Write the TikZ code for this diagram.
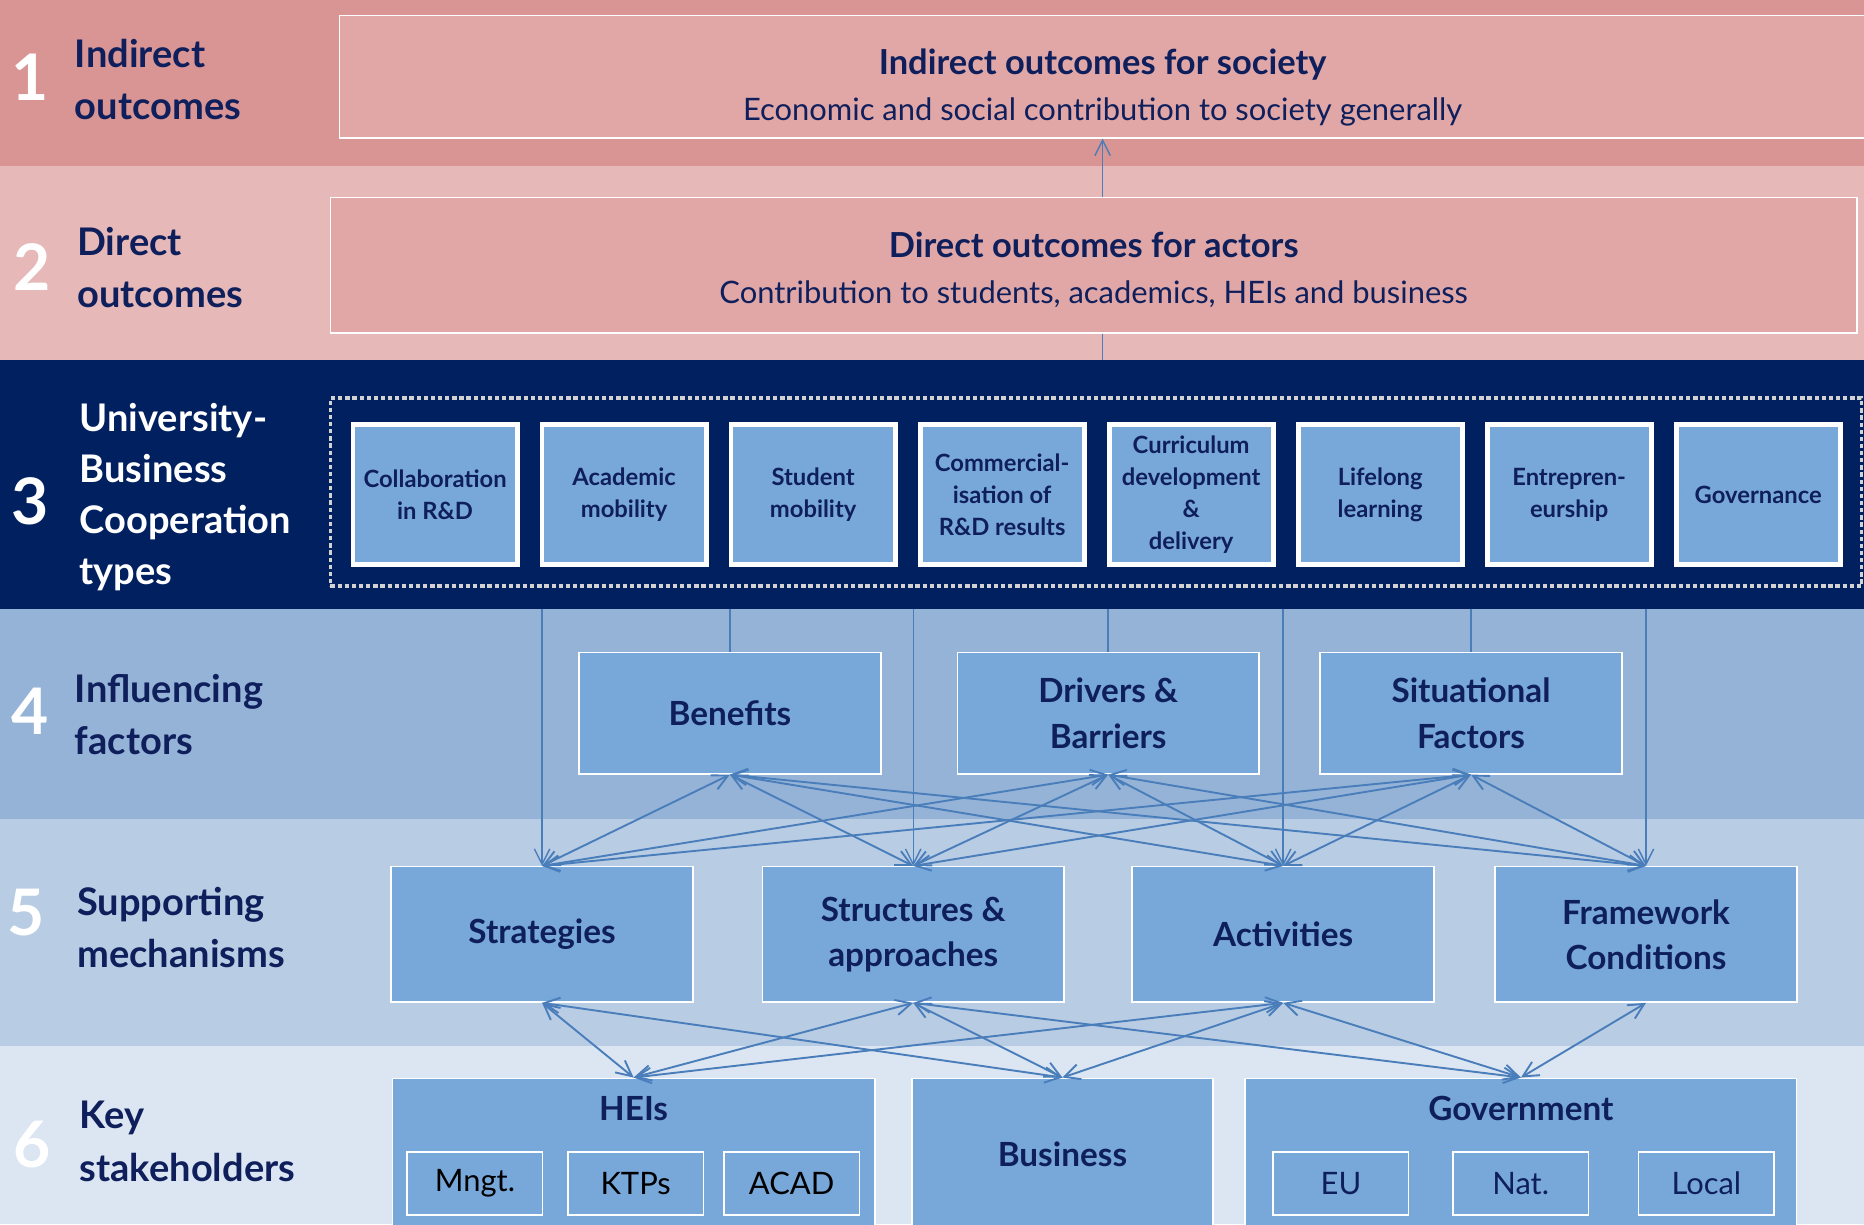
\documentclass[tikz,border=0pt]{standalone}
\usepackage{fontspec}
\setmainfont{Lato}
\usetikzlibrary{positioning,arrows.meta}

\definecolor{bandone}{HTML}{D99594}
\definecolor{bandtwo}{HTML}{E6B8B7}
\definecolor{bandthree}{HTML}{002060}
\definecolor{bandfour}{HTML}{95B3D7}
\definecolor{bandfive}{HTML}{B8CCE4}
\definecolor{bandsix}{HTML}{DCE6F2}
\definecolor{outfill}{HTML}{E0A7A6}
\definecolor{boxblue}{HTML}{78A8DA}
\definecolor{linkblue}{HTML}{4A7EBB}
\definecolor{navy}{HTML}{0F1F5C}

\begin{document}
\begin{tikzpicture}[x=0.5pt, y=-0.5pt, >={Straight Barb[length=6.5pt,width=6.5pt]},
  tiernum/.style={text=white, font=\fontsize{27}{27}\selectfont\bfseries},
  tier/.style={anchor=west, align=left, text=navy, font=\fontsize{16}{22}\selectfont\bfseries},
  outbox/.style={draw=white, line width=0.6pt, fill=outfill, minimum width=642pt},
  outtext/.style={align=center, text=navy, font=\fontsize{13}{19.5}\selectfont},
  typebox/.style={draw=white, line width=2pt, fill=boxblue, text=navy, align=center, minimum width=69pt, minimum height=59pt, inner sep=1pt, font=\fontsize{10}{13.5}\selectfont\bfseries},
  factorbox/.style={draw=white, line width=0.6pt, fill=boxblue, text=navy, align=center, minimum width=127pt, font=\fontsize{14}{19}\selectfont\bfseries},
  holderbox/.style={draw=white, line width=0.6pt, fill=boxblue, text=navy, minimum height=64pt, font=\fontsize{14}{19}\selectfont\bfseries},
  holdertitle/.style={text=navy, font=\fontsize{14}{19}\selectfont\bfseries},
  subbox/.style={draw=white, line width=0.6pt, fill=boxblue, text=navy, minimum width=57pt, minimum height=26.5pt, font=\fontsize{13}{13}\selectfont},
  link/.style={draw=linkblue, line width=0.8pt, <->},
  feed/.style={draw=linkblue, line width=0.6pt}
]
\useasboundingbox (0,0) rectangle (1568,1030);
\clip (0,0) rectangle (1568,1030);

% bands
\fill[bandone] (0,0) rectangle (1568,140);
\fill[bandtwo] (0,140) rectangle (1568,303);
\fill[bandthree] (0,303) rectangle (1568,512);
\fill[bandfour] (0,512) rectangle (1568,689);
\fill[bandfive] (0,689) rectangle (1568,880);
\fill[bandsix] (0,880) rectangle (1568,1030);
\coordinate (topthree) at (0,303);
\coordinate (botthree) at (0,512);

% tier labels
\node[tiernum] (numone) at (25,65) {1};
\node[tier] (tierone) at (56,67) {Indirect\\outcomes};
\node[tiernum] (numtwo) at (27,225) {2};
\node[tier] (tiertwo) at (58,225) {Direct\\outcomes};
\node[tiernum] (numthree) at (25,422) {3};
\node[tier, text=white, font=\fontsize{16}{21.5}\selectfont\bfseries] (tierthree) at (60,418) {University-\\Business\\Cooperation\\types};
\node[tiernum] (numfour) at (25,598) {4};
\node[tier] (tierfour) at (56,601) {Influencing\\factors};
\node[tiernum] (numfive) at (22,768) {5};
\node[tier] (tierfive) at (58,780) {Supporting\\mechanisms};
\node[tiernum] (numsix) at (27,963) {6};
\node[tier] (tiersix) at (60,960) {Key\\stakeholders};

% outcomes
\node[outbox, minimum height=51.5pt] (indirect) at (927.5,64.5) {};
\node[outtext] (indirecttxt) at ([yshift=-4.5pt]indirect.center) {{\fontsize{14.5}{19.5}\selectfont\bfseries Indirect outcomes for society}\\Economic and social contribution to society generally};
\node[outbox, minimum height=57pt] (direct) at (920,223) {};
\node[outtext] (directtxt) at ([yshift=-2pt]direct.center) {{\fontsize{14.5}{19.5}\selectfont\bfseries Direct outcomes for actors}\\Contribution to students, academics, HEIs and business};

% cooperation types
\node[draw=gray!35, line width=1.5pt, dash pattern=on 1.8pt off 1.2pt, minimum width=644pt, minimum height=79pt] (typeframe) at (922,414) {};
\node[typebox] (rnd) at (366,416) {Collaboration\\in R\&D};
\node[typebox, right=8.5pt of rnd] (acmob) {Academic\\mobility};
\node[typebox, right=8.5pt of acmob] (stmob) {Student\\mobility};
\node[typebox, right=8.5pt of stmob] (commerc) {Commercial-\\isation of\\R\&D results};
\node[typebox, right=8.5pt of commerc] (curric) {Curriculum\\development\\\&\\delivery};
\node[typebox, right=8.5pt of curric] (lifelong) {Lifelong\\learning};
\node[typebox, right=8.5pt of lifelong] (entrep) {Entrepren-\\eurship};
\node[typebox, right=8.5pt of entrep] (govern) {Governance};

% influencing factors
\node[factorbox, minimum height=51pt] (benefits) at (614,600) {Benefits};
\node[factorbox, minimum height=51pt, right=31.5pt of benefits] (drivers) {Drivers \&\\Barriers};
\node[factorbox, minimum height=51pt, right=25pt of drivers] (situational) {Situational\\Factors};

% supporting mechanisms
\node[factorbox, minimum height=57pt] (strategies) at (456,786) {Strategies};
\node[factorbox, minimum height=57pt, right=28.5pt of strategies] (structures) {Structures \&\\approaches};
\node[factorbox, minimum height=57pt, right=28pt of structures] (activities) {Activities};
\node[factorbox, minimum height=57pt, right=25pt of activities] (framework) {Framework\\Conditions};

% key stakeholders
\node[holderbox, minimum width=203pt] (heis) at (533,971) {};
\node[holderbox, minimum width=126.5pt, right=15pt of heis] (business) {Business};
\node[holderbox, minimum width=232pt, right=13pt of business] (government) {};
\node[holdertitle, below=4.5pt of heis.north] (heistitle) {HEIs};
\node[holdertitle, below=4.5pt of government.north] (govtitle) {Government};
\node[subbox, text=black] (mngt) at (399.5,995.5) {Mngt.};
\node[subbox, text=black, right=10pt of mngt] (ktps) {KTPs};
\node[subbox, text=black, right=8pt of ktps] (acad) {ACAD};
\node[subbox] (eu) at (1128,995.5) {EU};
\node[subbox, right=18pt of eu] (nat) {Nat.};
\node[subbox, right=20.5pt of nat] (local) {Local};

% connectors
\draw[feed, ->] (direct.north -| indirect.south) -- (indirect.south);
\draw[feed] (direct.south -| indirect.south) -- (topthree -| indirect.south);
\draw[feed] (botthree -| benefits.north) -- (benefits.north);
\draw[feed] (botthree -| drivers.north) -- (drivers.north);
\draw[feed] (botthree -| situational.north) -- (situational.north);
\draw[feed, ->] (botthree -| strategies.north) -- (strategies.north);
\draw[feed, ->] (botthree -| structures.north) -- (structures.north);
\draw[feed, ->] (botthree -| activities.north) -- (activities.north);
\draw[feed, ->] (botthree -| framework.north) -- (framework.north);

\foreach \f in {benefits,drivers,situational}
  \foreach \m in {strategies,structures,activities,framework}
    \draw[link] (\f.south) -- (\m.north);

\draw[link] (strategies.south) -- (heis.north);
\draw[link] (strategies.south) -- (business.north);
\draw[link] (structures.south) -- (heis.north);
\draw[link] (structures.south) -- (business.north);
\draw[link] (structures.south) -- (government.north);
\draw[link] (activities.south) -- (heis.north);
\draw[link] (activities.south) -- (business.north);
\draw[link] (activities.south) -- (government.north);
\draw[link] (framework.south) -- (government.north);
\end{tikzpicture}
\end{document}
